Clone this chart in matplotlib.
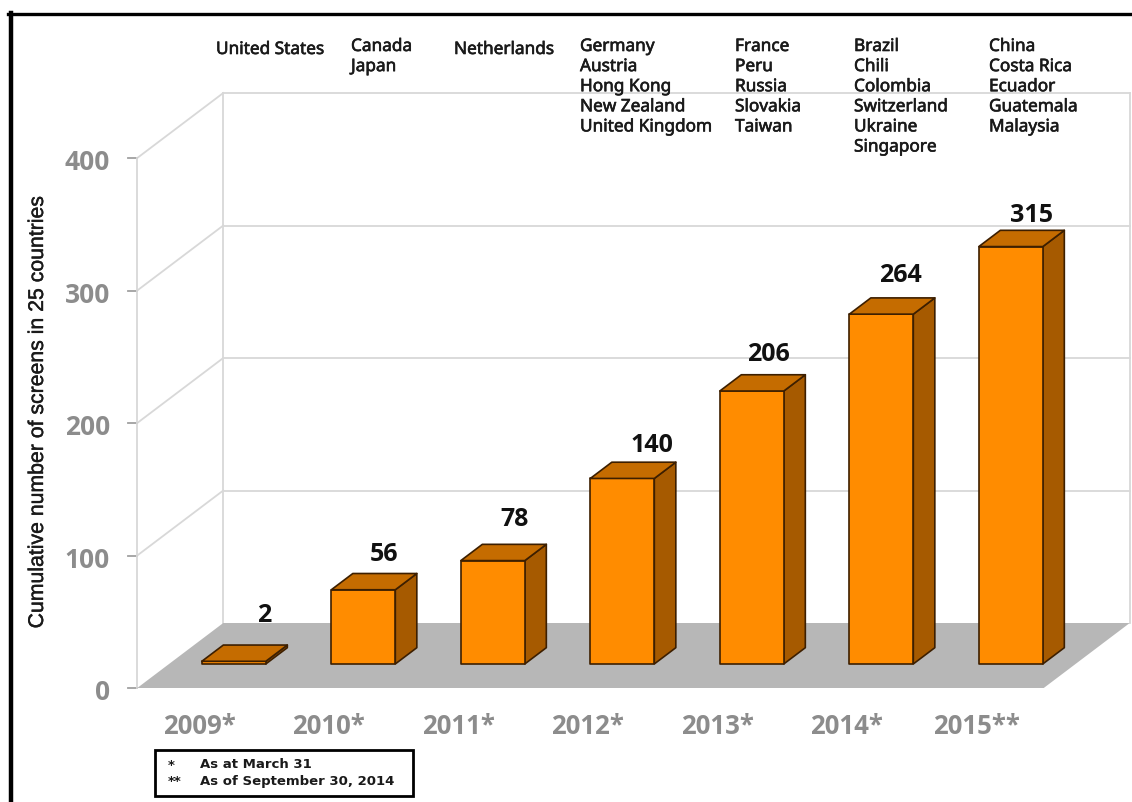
import numpy as np
import matplotlib
matplotlib.use('Agg')
import matplotlib.pyplot as plt
import matplotlib.patheffects as pe
from matplotlib.patches import Polygon, Rectangle

years = ['2009*', '2010*', '2011*', '2012*', '2013*', '2014*', '2015**']
screens = [2, 56, 78, 140, 206, 264, 315]
y_ticks = [0, 100, 200, 300, 400]
countries = [
    ['United States'],
    ['Canada', 'Japan'],
    ['Netherlands'],
    ['Germany', 'Austria', 'Hong Kong', 'New Zealand', 'United Kingdom'],
    ['France', 'Peru', 'Russia', 'Slovakia', 'Taiwan'],
    ['Brazil', 'Chili', 'Colombia', 'Switzerland', 'Ukraine', 'Singapore'],
    ['China', 'Costa Rica', 'Ecuador', 'Guatemala', 'Malaysia'],
]
footnotes = [('*', 'As at March 31'), ('**', 'As of September 30, 2014')]

W, H = 1132, 802
PX_X = 129.5     # pixels per category
PX_Y = 1.325     # pixels per screen
X0 = 202         # pixel x of first category on the front floor edge
Y0 = 688         # pixel y of value 0 on the front floor edge

# oblique projection: going back by depth 1 shifts right and up
DX = 86 / PX_X
DY = 65 / PX_Y
BAR_W = 64 / PX_X
D_FRONT = 0.37
D_BACK = 0.62

# hand placement of the value labels, in pixels (right, up)
label_nudge = [(2, 8), (-7, -2), (-6, 4), (2, -4), (-11, -1), (-9, 1), (-7, -6)]
country_x = [216, 351, 454, 580, 735, 854, 989]

GRID = '#d8d8d8'
TICK_GREY = '#8c8c8c'
FLOOR = '#b7b7b7'
FRONT = '#ff8c00'
TOP = '#c56c00'
SIDE = '#a65a00'
EDGE = '#3d1f00'


def proj(x, v, d):
    return x + d * DX, v + d * DY


fig = plt.figure(figsize=(W / 100, H / 100), dpi=100)
ax = fig.add_axes([0, 0, 1, 1])
ax.set_xlim(-X0 / PX_X, (W - X0) / PX_X)
ax.set_ylim(-(H - Y0) / PX_Y, Y0 / PX_Y)
ax.axis('off')

left, right = -0.5, 6.5

# floor
floor = [proj(left, 0, 0), proj(right, 0, 0), proj(right, 0, 1), proj(left, 0, 1)]
ax.add_patch(Polygon(floor, closed=True, fc=FLOOR, ec='none', zorder=1))

# walls and gridlines
for t in y_ticks:
    if t > 0:
        ax.plot(*zip(proj(left, t, 0), proj(left, t, 1)), color=GRID, lw=1.3, zorder=0)
        ax.plot(*zip(proj(left, t, 1), proj(right, t, 1)), color=GRID, lw=1.3, zorder=0)
    ax.plot(*zip(proj(left - 0.075, t, 0), proj(left, t, 0)), color='#a0a0a0', lw=1.3, zorder=0)
    ax.text(left - 0.21, t - 3.5, str(t), ha='right', va='center', fontsize=19,
            fontweight='bold', family='Open Sans', color=TICK_GREY)
ax.plot(*zip(proj(left, 0, 0), proj(left, 400, 0)), color=GRID, lw=1.3, zorder=0)
ax.plot(*zip(proj(left, 0, 1), proj(left, 400, 1)), color=GRID, lw=1.3, zorder=0)
ax.plot(*zip(proj(right, 0, 1), proj(right, 400, 1)), color=GRID, lw=1.3, zorder=0)

# bars, left to right
for i, v in enumerate(screens):
    xl, xr = i - BAR_W / 2, i + BAR_W / 2
    front = [proj(xl, 0, D_FRONT), proj(xr, 0, D_FRONT), proj(xr, v, D_FRONT), proj(xl, v, D_FRONT)]
    top = [proj(xl, v, D_FRONT), proj(xr, v, D_FRONT), proj(xr, v, D_BACK), proj(xl, v, D_BACK)]
    side = [proj(xr, 0, D_FRONT), proj(xr, 0, D_BACK), proj(xr, v, D_BACK), proj(xr, v, D_FRONT)]
    for pts, c in ((side, SIDE), (front, FRONT), (top, TOP)):
        ax.add_patch(Polygon(pts, closed=True, fc=c, ec=EDGE, lw=1.2, joinstyle='round', zorder=3 + i))
    lx, ly = proj(i, v, D_BACK)
    nx, ny = label_nudge[i]
    ax.text(lx + 0.05 + nx / PX_X, ly + 16 + ny / PX_Y, str(v), ha='center', va='center',
            fontsize=18, fontweight='bold', family='Open Sans', color='#111111', zorder=20)

# category labels under the floor
for i, y in enumerate(years):
    ax.text(i - 0.023, -29, y, ha='center', va='center', fontsize=18.5, fontweight='bold',
            family='Open Sans', color=TICK_GREY)

# countries added each year
thicken = [pe.withStroke(linewidth=0.45, foreground='#1a1a1a')]
for i, names in enumerate(countries):
    top_y = 49 if i in (0, 2) else 46
    fig.text(country_x[i] / W, 1 - (top_y - 9) / H, '\n'.join(names), ha='left', va='top',
             fontsize=12.4, family='Noto Sans', color='#1a1a1a', linespacing=1.15,
             path_effects=thicken)

fig.text(37.5 / W, 1 - 412 / H, 'Cumulative number of screens in 25 countries', rotation=90,
         ha='center', va='center', fontsize=15.3, family='Liberation Sans', color='#1a1a1a',
         path_effects=[pe.withStroke(linewidth=0.3, foreground='#1a1a1a')])

# footnote box
fig.add_artist(Rectangle((155 / W, 1 - 796 / H), 258 / W, 46 / H, transform=fig.transFigure,
                         fc='white', ec='black', lw=2))
for k, (mark, txt) in enumerate(footnotes):
    yy = 1 - (765 + k * 16.5) / H
    fig.text(168 / W, yy, mark, ha='left', va='center', fontsize=9.5, fontweight='bold', color='#1a1a1a')
    fig.text(200 / W, yy, txt, ha='left', va='center', fontsize=9.5, fontweight='bold', color='#1a1a1a')

# outer frame of the figure
fig.add_artist(plt.Line2D([11 / W, 11 / W], [0, 1 - 13 / H], color='black', lw=3.2, transform=fig.transFigure))
fig.add_artist(plt.Line2D([8 / W, 1], [1 - 14 / H, 1 - 14 / H], color='black', lw=2.4, transform=fig.transFigure))

fig.savefig('out.png', dpi=100)
